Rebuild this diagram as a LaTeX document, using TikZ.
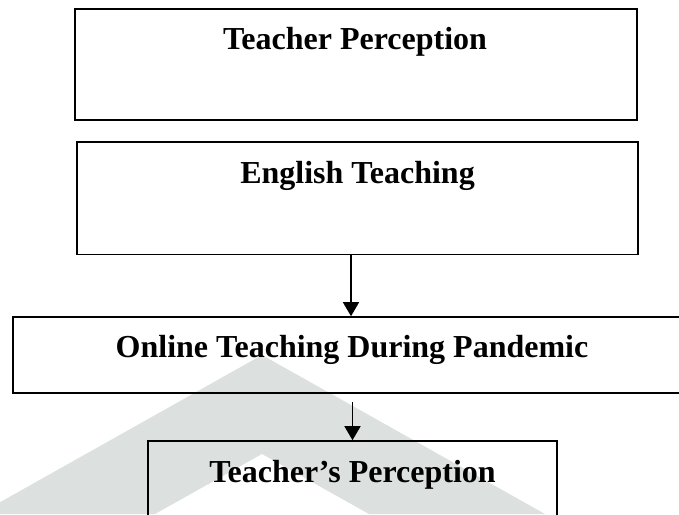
\documentclass[tikz,border=0pt]{standalone}
\usepackage{fontspec}
\setmainfont{Liberation Serif}
\usetikzlibrary{arrows.meta}
\definecolor{wmark}{RGB}{220,225,223}
\tikzset{
  boxnode/.style={draw=black, line width=1.6pt, rectangle, inner sep=0pt},
  lbl/.style={inner sep=0pt, anchor=base, font=\fontsize{32}{38}\selectfont\bfseries},
  arr/.style={line width=1.6pt, -{Triangle[width=16pt,length=14pt]}}
}
\begin{document}
\begin{tikzpicture}[x=1pt,y=-1pt]
\useasboundingbox (0,0) rectangle (679,514);
\clip (0,0) rectangle (679,514);
% watermark chevron
\fill[wmark] (262,355) -- (545,514) -- (369,514) -- (262,454) -- (155,514) -- (-21,514) -- cycle;
% boxes
\node[boxnode, line width=2.2pt, minimum width=562pt, minimum height=111pt] (b1) at (356,64.5) {};
\node[boxnode, minimum width=561pt, minimum height=112.5pt] (b2) at (357.5,198.3) {};
\node[boxnode, minimum width=687pt, minimum height=76pt] (b3) at (356.5,355) {};
\node[boxnode, minimum width=409pt, minimum height=99pt] (b4) at (352.5,490.5) {};
% labels
\node[lbl] (t1) at (355,49.5) {Teacher Perception};
\node[lbl] (t2) at (357.5,183) {English Teaching};
\node[lbl] (t3) at (352,357) {Online Teaching During Pandemic};
\node[lbl] (t4) at (352.5,482) {Teacher’s Perception};
% arrows
\path (b2.south) ++(-6.5,0) coordinate (a1s);
\draw[arr] (a1s) -- (a1s |- b3.north);
\path (b3.south -| b4.north) ++(0,8) coordinate (a2s);
\draw[arr] (a2s) -- (b4.north);
\end{tikzpicture}
\end{document}
